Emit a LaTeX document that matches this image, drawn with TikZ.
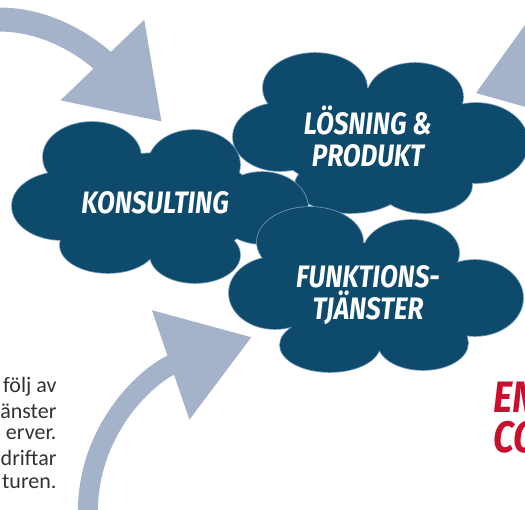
\documentclass[tikz,border=0pt]{standalone}
\usepackage{fontspec}
\setmainfont{Carlito}
\newfontfamily\cloudfont{Fira Sans}[FakeStretch=0.84]
\usepackage{tikz}
\usetikzlibrary{arrows.meta}
\definecolor{cloudblue}{RGB}{14,74,108}
\definecolor{cloudedge}{RGB}{112,150,182}
\definecolor{arrowgray}{RGB}{164,179,201}
\definecolor{brandred}{RGB}{200,16,46}
\definecolor{bodytext}{RGB}{50,50,50}

\begin{document}
\begin{tikzpicture}[x=1pt, y=-1pt,
      cloud/.style={fill=cloudblue, preaction={draw=cloudedge, line width=1.6pt}},
      lbl/.style={text=white, align=center, font=\cloudfont\bfseries\itshape\fontsize{31}{32}\selectfont},
      body/.style={text=bodytext, anchor=east, font=\fontsize{22}{24}\selectfont},
      flow/.style={draw=arrowgray, line width=24pt},
      >={Triangle[length=86pt, width=110pt]}]
    \useasboundingbox (0,0) rectangle (525,509);
    \clip (0,0) rectangle (525,509);

    % arrows
    \coordinate (inA) at (-12,20);
    \coordinate (tipA) at (162,122);
    \draw[flow, ->, arrowgray] (inA) .. controls (60,14) and (110,68) .. (tipA);
    \coordinate (inB) at (88,520);
    \coordinate (tipB) at (252,337);
    \draw[flow, line width=20pt, ->, arrowgray] (inB) .. controls (84,430) and (150,372) .. (tipB);
    \fill[arrowgray] (476,93) -- (540,4) -- (540,111) -- cycle;

    % clouds
    \path[cloud] (315,88) ellipse (52 and 35) (415,97) ellipse (48 and 34)
      (280,137) ellipse (47 and 34) (476,143) ellipse (52 and 40)
      (350,185) ellipse (55 and 28) (425,185) ellipse (47 and 28)
      (375,140) ellipse (100 and 52);
    \path[cloud] (92,157) ellipse (49 and 35) (194,165) ellipse (46 and 35)
      (62,206) ellipse (50 and 34) (262,208) ellipse (46 and 36)
      (108,245) ellipse (48 and 28) (195,255) ellipse (45 and 28)
      (160,205) ellipse (100 and 52);
    \path[cloud] (310,242) ellipse (53 and 35) (411,253) ellipse (48 and 33)
      (275,293) ellipse (46 and 36) (475,298) ellipse (48 and 38)
      (330,345) ellipse (50 and 27) (423,343) ellipse (45 and 27)
      (370,295) ellipse (100 and 52);

    \node[lbl] (konsult) at (155,203) {KONSULTING};
    \node[lbl] (losning) at (368,136) {LÖSNING \&\\PRODUKT};
    \node[lbl] (funktion) at (368,295) {FUNKTIONS-\\TJÄNSTER};

    % text cut at the left edge
    \node[body] (rad1) at (60,387) {följ av};
    \node[body] (rad2) at (60,411) {änster};
    \node[body] (rad3) at (60,434) {erver.};
    \node[body] (rad4) at (60,458) {driftar};
    \node[body] (rad5) at (60,482) {turen.};

    \node[anchor=west, text=brandred, align=left, inner sep=0pt,
          font=\cloudfont\bfseries\itshape\fontsize{44}{40}\selectfont] (rubrik) at (493,418) {EN\\CO};
  \end{tikzpicture}
\end{document}
